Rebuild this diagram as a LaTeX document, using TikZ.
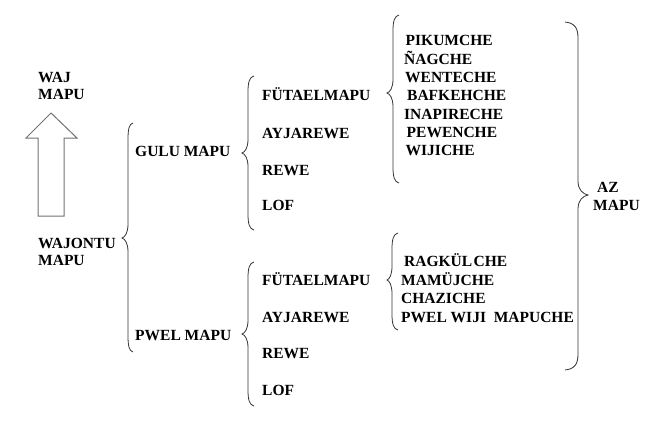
\documentclass[tikz,border=0pt]{standalone}
\usepackage{fontspec}
\newfontfamily\lblfont{Liberation Serif}[UprightFont={* Bold}]
\begin{document}
\begin{tikzpicture}[x=1pt,y=-1pt,
  lbl/.style={anchor=base west,inner sep=0pt,font=\lblfont\fontsize{15.5}{18}\selectfont},
  bracestyle/.style={draw=black!80,line width=0.8pt},
  arrowstyle/.style={draw=black!55,line width=1pt,fill=white}]
\useasboundingbox (0,0) rectangle (669,423);
\newcommand\BraceShape[6]{%
  \draw[bracestyle] ({#1+#5},#2) .. controls ({#1+0.25*#5},{#2+1}) and (#1,{#2+6}) .. (#1,{#2+16})
   -- (#1,{#3-14}) .. controls (#1,{#3-5}) and ({#1-0.5*#6},{#3-1}) .. ({#1-#6},#3)
   .. controls ({#1-0.5*#6},{#3+1}) and (#1,{#3+5}) .. (#1,{#3+14})
   -- (#1,{#4-16}) .. controls (#1,{#4-6}) and ({#1+0.25*#5},{#4-1}) .. ({#1+#5},#4);}
% arrow
\draw[arrowstyle] (51,113) -- (77,138) -- (64,138) -- (64,216) -- (38,216) -- (38,138) -- (26,138) -- cycle;
% left column
\node[lbl] (waj) at (38,82) {WAJ};
\node[lbl] (wajmapu) at (38,99.5) {MAPU};
\node[lbl] (wajontu) at (38,248) {WAJONTU};
\node[lbl] (wajontumapu) at (38,265.5) {MAPU};
% braces
\BraceShape{128}{123}{238}{352}{5}{6}
\BraceShape{248}{76}{153}{230}{6}{6}
\BraceShape{248}{262}{334}{406}{6}{6}
\BraceShape{393}{15}{93}{183}{6}{6}
\BraceShape{392}{233}{280}{330}{6}{5}
\BraceShape{578}{22}{195}{370}{-13}{-10}
% second column
\node[lbl] (gulu) at (135,156.5) {GULU MAPU};
\node[lbl] (pwel) at (135,340) {PWEL MAPU};
% third column upper
\node[lbl] (fut1) at (262,100.5) {FÜTAELMAPU};
\node[lbl] (ayj1) at (262,138.5) {AYJAREWE};
\node[lbl] (rew1) at (262,175.5) {REWE};
\node[lbl] (lof1) at (262,210.5) {LOF};
% third column lower
\node[lbl] (fut2) at (262,285.5) {FÜTAELMAPU};
\node[lbl] (ayj2) at (262,322.5) {AYJAREWE};
\node[lbl] (rew2) at (262,358.5) {REWE};
\node[lbl] (lof2) at (262,395.5) {LOF};
% fourth column upper
\node[lbl] (pik) at (405.5,45.5) {PIKUMCHE};
\node[lbl] (nag) at (404,64) {ÑAGCHE};
\node[lbl] (wen) at (405,82.5) {WENTECHE};
\node[lbl] (baf) at (407,100.5) {BAFKEHCHE};
\node[lbl] (ina) at (404,119) {INAPIRECHE};
\node[lbl] (pew) at (406.5,137.5) {PEWENCHE};
\node[lbl] (wij) at (405.5,155.5) {WIJICHE};
% fourth column lower
\node[lbl] (rag) at (404,266) {RAGKÜL\kern1.5pt CHE};
\node[lbl] (mam) at (401,285) {MAMÜJCHE};
\node[lbl] (cha) at (401,303.5) {CHAZICHE};
\node[lbl] (pwm) at (401,322) {PWEL WIJI\ \ MAPUCHE};
% right
\node[lbl] (az) at (597,192.5) {AZ};
\node[lbl] (azmapu) at (593,210.5) {MAPU};
\end{tikzpicture}
\end{document}
